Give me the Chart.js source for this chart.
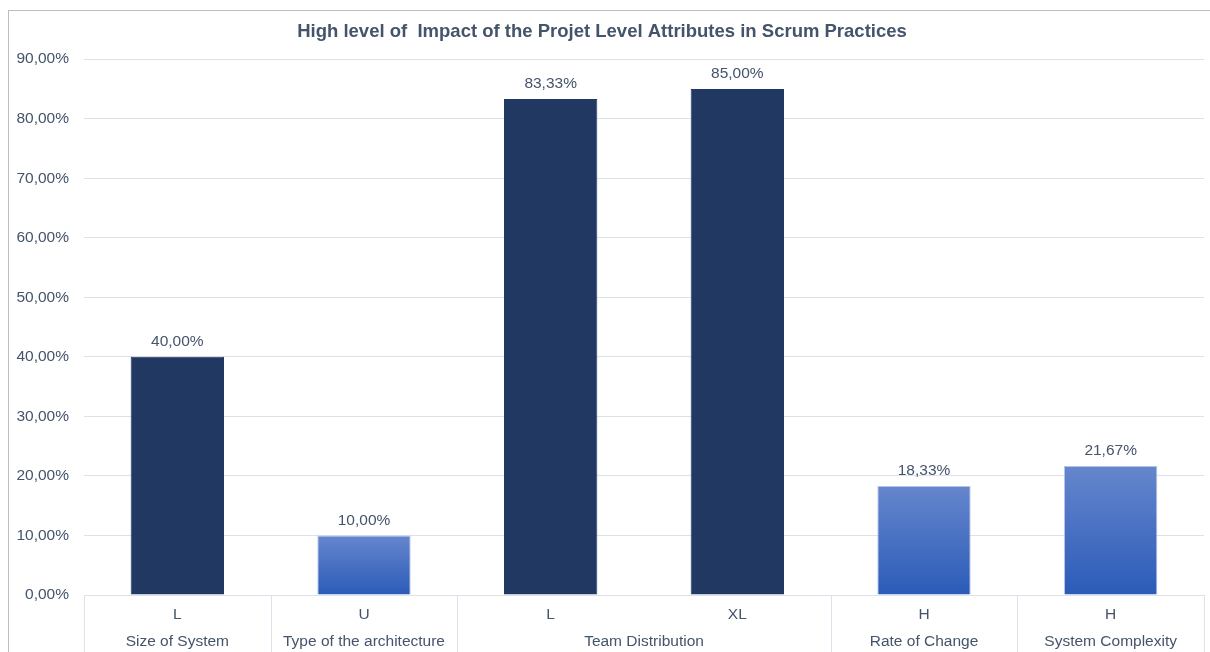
<!DOCTYPE html>
<html>
<head>
<meta charset="utf-8">
<script src="https://cdn.jsdelivr.net/npm/chart.js@4.4.1/dist/chart.umd.min.js"></script>
<style>
  html, body { margin: 0; padding: 0; background: #fff; }
  #frame { position: absolute; left: 8px; top: 10px; width: 1240px; height: 700px; border: 1px solid #bdbdbd; box-sizing: border-box; }
  #wrap { position: absolute; left: 0; top: 0; width: 1210px; height: 652px; }
</style>
</head>
<body>
<div id="frame"></div>
<div id="wrap"><canvas id="impactChart"></canvas></div>
<script>
// impact level per attribute value, and the attribute each one belongs to
const levels = ['L', 'U', 'L', 'XL', 'H', 'H'];
const attributes = ['Size of System', 'Type of the architecture', 'Team Distribution', 'Rate of Change', 'System Complexity'];
const attributeSpans = [1, 1, 2, 1, 1];
const impactValues = [40.00, 10.00, 83.33, 85.00, 18.33, 21.67];
const yTicks = [0, 10, 20, 30, 40, 50, 60, 70, 80, 90];
const darkLevels = ['L', 'XL'];

const FONT = '"Liberation Sans", Arial, Helvetica, sans-serif';
const TEXT = '#44546a';
const GRID = '#dde2ea';

function pct(v) {
    return v.toFixed(2).replace('.', ',') + '%';
}

// dark bars for L/XL, blue gradient (light on top) for the rest
function barFill(c) {
    if (c.type !== 'data') return '#213863';
    const i = c.dataIndex;
    if (darkLevels.includes(levels[i])) return '#213863';
    const chart = c.chart, y = chart.scales.y;
    if (!chart.chartArea || !y) return '#4a72c4';
    const top = y.getPixelForValue(impactValues[i]);
    const base = y.getPixelForValue(0);
    const g = chart.ctx.createLinearGradient(0, top, 0, base);
    g.addColorStop(0, '#6686cd');
    g.addColorStop(1, '#2b5bb8');
    return g;
}

function barBorder(c) {
    if (c.type === 'data' && !darkLevels.includes(levels[c.dataIndex])) return 'rgba(170,190,230,0.9)';
    return '#213863';
}

// value labels above each bar
const valueLabels = {
    id: 'valueLabels',
    afterDatasetsDraw(chart) {
        const ctx = chart.ctx;
        const meta = chart.getDatasetMeta(0);
        ctx.save();
        ctx.font = '15.5px ' + FONT;
        ctx.fillStyle = TEXT;
        ctx.textAlign = 'center';
        ctx.textBaseline = 'middle';
        meta.data.forEach(function(bar, i) {
            ctx.fillText(pct(impactValues[i]), bar.x, bar.y - 15);
        });
        ctx.restore();
    }
};

// second row of the category axis: attribute names with separators
const groupAxis = {
    id: 'groupAxis',
    afterDraw(chart) {
        const ctx = chart.ctx;
        const x = chart.scales.x;
        const area = chart.chartArea;
        const half = (x.getPixelForValue(1) - x.getPixelForValue(0)) / 2;
        const edges = [x.getPixelForValue(0) - half];
        let start = 0;
        ctx.save();
        ctx.font = '15.5px ' + FONT;
        ctx.fillStyle = TEXT;
        ctx.textAlign = 'center';
        ctx.textBaseline = 'middle';
        attributes.forEach(function(name, g) {
            const end = start + attributeSpans[g] - 1;
            const left = x.getPixelForValue(start) - half;
            const right = x.getPixelForValue(end) + half;
            ctx.fillText(name, (left + right) / 2, area.bottom + 47);
            edges.push(right);
            start = end + 1;
        });
        ctx.strokeStyle = GRID;
        ctx.lineWidth = 1;
        edges.forEach(function(px) {
            const p = Math.round(px) + 0.5;
            ctx.beginPath();
            ctx.moveTo(p, area.bottom);
            ctx.lineTo(p, chart.height);
            ctx.stroke();
        });
        ctx.restore();
    }
};

new Chart(document.getElementById('impactChart'), {
    type: 'bar',
    data: {
        labels: levels,
        datasets: [{
            data: impactValues,
            backgroundColor: barFill,
            borderColor: barBorder,
            borderWidth: 1,
            barPercentage: 0.5,
            categoryPercentage: 1.0
        }]
    },
    options: {
        responsive: true,
        maintainAspectRatio: false,
        animation: false,
        layout: { padding: { left: 0, right: 6, top: 0, bottom: 0 } },
        plugins: {
            legend: { display: false },
            tooltip: { enabled: false },
            title: {
                display: true,
                text: 'High level of  Impact of the Projet Level Attributes in Scrum Practices',
                color: TEXT,
                font: { family: FONT, size: 18.5, weight: 'bold' },
                padding: { top: 21, bottom: 16 }
            }
        },
        scales: {
            y: {
                min: 0,
                max: 90,
                afterBuildTicks: function(scale) {
                    scale.ticks = yTicks.map(function(v) { return { value: v }; });
                },
                afterFit: function(scale) { scale.width = 84; },
                border: { display: false },
                grid: { color: GRID, drawTicks: false },
                ticks: {
                    padding: 15,
                    color: TEXT,
                    font: { family: FONT, size: 15.5 },
                    callback: function(v) { return pct(v); }
                }
            },
            x: {
                afterFit: function(scale) { scale.height = 57; },
                border: { display: false },
                grid: { display: false, drawTicks: false },
                ticks: {
                    padding: 10,
                    color: TEXT,
                    font: { family: FONT, size: 15.5 },
                    maxRotation: 0
                }
            }
        }
    },
    plugins: [valueLabels, groupAxis]
});
</script>
</body>
</html>
